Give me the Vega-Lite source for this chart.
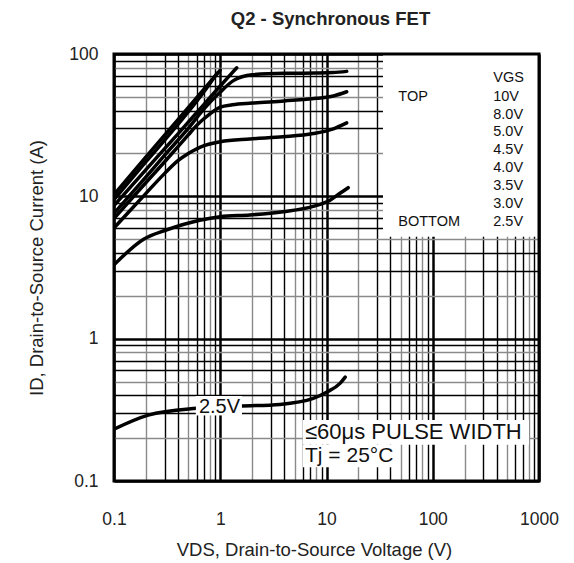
{
  "$schema": "https://vega.github.io/schema/vega-lite/v6.json",
  "width": 425,
  "height": 427,
  "autosize": {"type": "none"},
  "padding": {"left": 114, "top": 54, "right": 35, "bottom": 82},
  "background": "white",
  "config": {"font": "Liberation Sans", "view": {"stroke": null}},
  "title": {"text": "Q2 - Synchronous FET", "fontSize": 18.5, "fontWeight": "bold", "color": "#222", "anchor": "middle", "offset": 17, "dx": 4},
  "datasets": {
    "curves": [
      {"vgs": "10V", "x": 0.1, "y": 10.3}, {"vgs": "10V", "x": 0.2, "y": 18.9}, {"vgs": "10V", "x": 0.4, "y": 34.6}, {"vgs": "10V", "x": 0.7, "y": 56.5}, {"vgs": "10V", "x": 1.0, "y": 77},
      {"vgs": "8.0V", "x": 0.1, "y": 9.5}, {"vgs": "8.0V", "x": 0.2, "y": 17.5}, {"vgs": "8.0V", "x": 0.4, "y": 32}, {"vgs": "8.0V", "x": 0.7, "y": 54}, {"vgs": "8.0V", "x": 0.93, "y": 73},
      {"vgs": "5.0V", "x": 0.1, "y": 8.6}, {"vgs": "5.0V", "x": 0.2, "y": 15.4}, {"vgs": "5.0V", "x": 0.4, "y": 27.5}, {"vgs": "5.0V", "x": 0.7, "y": 44.1}, {"vgs": "5.0V", "x": 1.0, "y": 59.6}, {"vgs": "5.0V", "x": 1.2, "y": 69.3}, {"vgs": "5.0V", "x": 1.43, "y": 80},
      {"vgs": "4.5V", "x": 0.1, "y": 7.6}, {"vgs": "4.5V", "x": 0.2, "y": 13.7}, {"vgs": "4.5V", "x": 0.3, "y": 19.5}, {"vgs": "4.5V", "x": 0.5, "y": 30}, {"vgs": "4.5V", "x": 0.7, "y": 41}, {"vgs": "4.5V", "x": 1.0, "y": 54}, {"vgs": "4.5V", "x": 1.33, "y": 65}, {"vgs": "4.5V", "x": 2.0, "y": 71.5}, {"vgs": "4.5V", "x": 4.0, "y": 73.2}, {"vgs": "4.5V", "x": 8.0, "y": 73.5}, {"vgs": "4.5V", "x": 11.5, "y": 74}, {"vgs": "4.5V", "x": 15.5, "y": 75.5},
      {"vgs": "4.0V", "x": 0.1, "y": 7.0}, {"vgs": "4.0V", "x": 0.2, "y": 12.5}, {"vgs": "4.0V", "x": 0.3, "y": 17.5}, {"vgs": "4.0V", "x": 0.5, "y": 27}, {"vgs": "4.0V", "x": 0.6, "y": 31.5}, {"vgs": "4.0V", "x": 0.8, "y": 38}, {"vgs": "4.0V", "x": 1.0, "y": 42.3}, {"vgs": "4.0V", "x": 1.3, "y": 44}, {"vgs": "4.0V", "x": 2.0, "y": 45.2}, {"vgs": "4.0V", "x": 4.0, "y": 46.8}, {"vgs": "4.0V", "x": 8.0, "y": 48.8}, {"vgs": "4.0V", "x": 11.6, "y": 50.7}, {"vgs": "4.0V", "x": 15.5, "y": 54.3},
      {"vgs": "3.5V", "x": 0.1, "y": 6.0}, {"vgs": "3.5V", "x": 0.2, "y": 10.5}, {"vgs": "3.5V", "x": 0.3, "y": 14.5}, {"vgs": "3.5V", "x": 0.4, "y": 17.8}, {"vgs": "3.5V", "x": 0.5, "y": 20}, {"vgs": "3.5V", "x": 0.65, "y": 22.2}, {"vgs": "3.5V", "x": 1.0, "y": 24.2}, {"vgs": "3.5V", "x": 1.9, "y": 25.3}, {"vgs": "3.5V", "x": 3.9, "y": 26.2}, {"vgs": "3.5V", "x": 7.5, "y": 27.6}, {"vgs": "3.5V", "x": 11.6, "y": 29.8}, {"vgs": "3.5V", "x": 15.5, "y": 32.8},
      {"vgs": "3.0V", "x": 0.1, "y": 3.3}, {"vgs": "3.0V", "x": 0.19, "y": 5.0}, {"vgs": "3.0V", "x": 0.31, "y": 5.8}, {"vgs": "3.0V", "x": 0.64, "y": 6.8}, {"vgs": "3.0V", "x": 1.0, "y": 7.2}, {"vgs": "3.0V", "x": 1.9, "y": 7.4}, {"vgs": "3.0V", "x": 3.9, "y": 7.8}, {"vgs": "3.0V", "x": 7.5, "y": 8.5}, {"vgs": "3.0V", "x": 10.8, "y": 9.4}, {"vgs": "3.0V", "x": 13.4, "y": 10.5}, {"vgs": "3.0V", "x": 16, "y": 11.5},
      {"vgs": "2.5V", "x": 0.1, "y": 0.231}, {"vgs": "2.5V", "x": 0.21, "y": 0.29}, {"vgs": "2.5V", "x": 0.6, "y": 0.324}, {"vgs": "2.5V", "x": 1.59, "y": 0.336}, {"vgs": "2.5V", "x": 3.65, "y": 0.345}, {"vgs": "2.5V", "x": 7.5, "y": 0.38}, {"vgs": "2.5V", "x": 10, "y": 0.42}, {"vgs": "2.5V", "x": 13.4, "y": 0.485}, {"vgs": "2.5V", "x": 15, "y": 0.537}
    ],
    "boxes": [
      {"name": "legend", "x": 34, "x2": 1000, "y": 5.2, "y2": 100},
      {"name": "lab25", "x": 0.59, "x2": 1.6, "y": 0.29, "y2": 0.395},
      {"name": "pulse", "x": 6.0, "x2": 805, "y": 0.18, "y2": 0.268},
      {"name": "tj", "x": 6.0, "x2": 42, "y": 0.125, "y2": 0.18}
    ],
    "labels": [
      {"t": "VGS", "x": 371, "y": 67.5, "fs": 14.5},
      {"t": "10V", "x": 371, "y": 50.1, "fs": 14.5},
      {"t": "8.0V", "x": 371, "y": 37.3, "fs": 14.5},
      {"t": "5.0V", "x": 371, "y": 28.4, "fs": 14.5},
      {"t": "4.5V", "x": 371, "y": 21.2, "fs": 14.5},
      {"t": "4.0V", "x": 371, "y": 15.7, "fs": 14.5},
      {"t": "3.5V", "x": 371, "y": 11.8, "fs": 14.5},
      {"t": "3.0V", "x": 371, "y": 8.83, "fs": 14.5},
      {"t": "2.5V", "x": 371, "y": 6.57, "fs": 14.5},
      {"t": "TOP", "x": 47.4, "y": 50.1, "fs": 14.5},
      {"t": "BOTTOM", "x": 47.4, "y": 6.57, "fs": 14.5},
      {"t": "2.5V", "x": 0.63, "y": 0.33, "fs": 20},
      {"t": "≤60μs PULSE WIDTH", "x": 6.28, "y": 0.221, "fs": 22},
      {"t": "Tj = 25°C", "x": 6.28, "y": 0.15, "fs": 21}
    ],
    "frame": [{"x": 0.1, "x2": 1000, "y": 0.1, "y2": 100}]
  },
  "encoding": {
    "x": {
      "field": "x", "type": "quantitative",
      "scale": {"type": "log", "domain": [0.1, 1000], "nice": false},
      "axis": {
        "title": "VDS, Drain-to-Source Voltage (V)",
        "values": [0.1, 0.2, 0.3, 0.4, 0.5, 0.6, 0.7, 0.8, 0.9, 1, 2, 3, 4, 5, 6, 7, 8, 9, 10, 20, 30, 40, 50, 60, 70, 80, 90, 100, 200, 300, 400, 500, 600, 700, 800, 900, 1000],
        "format": "~g",
        "labelExpr": "indexof([0.1, 1, 10, 100, 1000], datum.value) >= 0 ? datum.label : ''",
        "labelFontSize": 17.5, "labelColor": "#222", "labelPadding": 29, "labelFlush": false, "labelOverlap": false,
        "ticks": false, "domain": false,
        "grid": true,
        "gridColor": {"condition": {"test": "indexof([2, 5, 8], round(datum.value / pow(10, floor(log(datum.value) / LN10 + 0.01)))) >= 0", "value": "#8a8a8a"}, "value": "#000000"},
        "gridWidth": {"condition": {"test": "abs(log(datum.value) / LN10 - round(log(datum.value) / LN10)) < 0.01", "value": 2.5}, "value": 1.4},
        "gridOpacity": 1,
        "titleFontSize": 18.5, "titleFontWeight": "normal", "titleColor": "#222", "titlePadding": 13, "titleX": 200
      }
    },
    "y": {
      "field": "y", "type": "quantitative",
      "scale": {"type": "log", "domain": [0.1, 100], "nice": false},
      "axis": {
        "title": "ID, Drain-to-Source Current (A)",
        "values": [0.1, 0.2, 0.3, 0.4, 0.5, 0.6, 0.7, 0.8, 0.9, 1, 2, 3, 4, 5, 6, 7, 8, 9, 10, 20, 30, 40, 50, 60, 70, 80, 90, 100],
        "format": "~g",
        "labelExpr": "indexof([0.1, 1, 10, 100], datum.value) >= 0 ? datum.label : ''",
        "labelFontSize": 17.5, "labelColor": "#222", "labelPadding": 16, "labelFlush": false, "labelOverlap": false,
        "ticks": false, "domain": false,
        "grid": true,
        "gridColor": {"condition": {"test": "indexof([2, 5, 8], round(datum.value / pow(10, floor(log(datum.value) / LN10 + 0.01)))) >= 0", "value": "#8a8a8a"}, "value": "#000000"},
        "gridWidth": {"condition": {"test": "abs(log(datum.value) / LN10 - round(log(datum.value) / LN10)) < 0.01", "value": 2.5}, "value": 1.4},
        "gridOpacity": 1,
        "titleFontSize": 18.5, "titleFontWeight": "normal", "titleColor": "#222", "titlePadding": 22
      }
    }
  },
  "layer": [
    {
      "data": {"name": "boxes"},
      "mark": {"type": "rect", "fill": "white", "stroke": null},
      "encoding": {"x2": {"field": "x2"}, "y2": {"field": "y2"}}
    },
    {
      "data": {"name": "curves"},
      "mark": {"type": "line", "color": "black", "strokeWidth": 3.5, "interpolate": "monotone", "strokeCap": "round", "clip": true},
      "encoding": {"detail": {"field": "vgs"}}
    },
    {
      "data": {"name": "boxes"},
      "transform": [{"filter": "datum.name == 'lab25'"}],
      "mark": {"type": "rect", "fill": "white", "stroke": null},
      "encoding": {"x2": {"field": "x2"}, "y2": {"field": "y2"}}
    },
    {
      "data": {"name": "labels"},
      "mark": {"type": "text", "align": "left", "baseline": "middle", "color": "#111"},
      "encoding": {"text": {"field": "t"}, "size": {"field": "fs", "type": "quantitative", "scale": null}}
    },
    {
      "data": {"name": "frame"},
      "mark": {"type": "rect", "fill": null, "stroke": "black", "strokeWidth": 3},
      "encoding": {"x2": {"field": "x2"}, "y2": {"field": "y2"}}
    }
  ]
}
